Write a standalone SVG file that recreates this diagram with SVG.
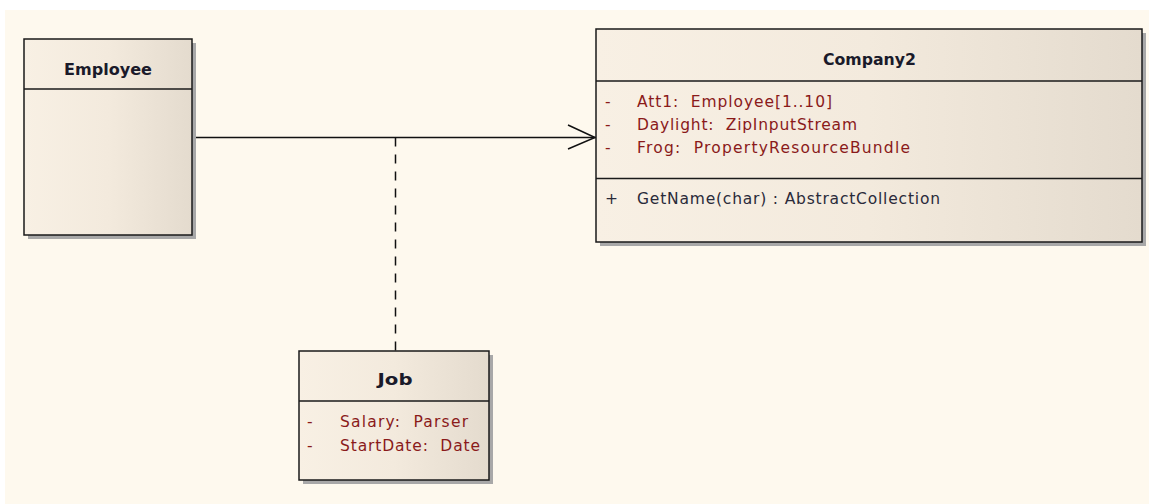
<svg xmlns="http://www.w3.org/2000/svg" width="1149" height="504" viewBox="0 0 1149 504">
<defs>
<linearGradient id="fillg" x1="0" y1="0" x2="1" y2="0">
<stop offset="0" stop-color="#F8F0E4"/>
<stop offset="0.5" stop-color="#F3EADD"/>
<stop offset="1" stop-color="#E4DBCE"/>
</linearGradient>
<style>
text{white-space:pre}
.box{fill:url(#fillg);stroke:#1a1a1a;stroke-width:1.5}
.shadow{fill:#a8a8a8}
.div{stroke:#1a1a1a;stroke-width:1.5}
.name{font-family:"DejaVu Sans",Verdana,sans-serif;font-size:16px;font-weight:bold;fill:#1a1a2a;text-anchor:middle}
.attr{font-family:"DejaVu Sans",Verdana,sans-serif;font-size:15.5px;fill:#8a1a1a}
.op{font-family:"DejaVu Sans",Verdana,sans-serif;font-size:15.5px;fill:#2a2a3a}
.conn{stroke:#111;stroke-width:1.5;fill:none}
</style>
</defs>
<rect x="0" y="0" width="1149" height="504" fill="#ffffff"/>
<rect x="5" y="10" width="1144" height="494" fill="#FEF9EE"/>
<g id="connectors">
<line class="conn" x1="192" y1="137.5" x2="596" y2="137.5"/>
<polyline class="conn" points="568,125 595,137.5 568,149"/>
<line class="conn" x1="395.5" y1="137.5" x2="395.5" y2="351" stroke-dasharray="9,8"/>
</g>
<g id="employee">
<rect class="shadow" x="28" y="43" width="168" height="196"/>
<rect class="box" x="24" y="39" width="168" height="196"/>
<line class="div" x1="24" y1="89" x2="192" y2="89"/>
<text class="name" x="108" y="75" textLength="88" lengthAdjust="spacingAndGlyphs">Employee</text>
</g>
<g id="company2">
<rect class="shadow" x="600" y="33" width="546" height="213"/>
<rect class="box" x="596" y="29" width="546" height="213"/>
<line class="div" x1="596" y1="81" x2="1142" y2="81"/>
<line class="div" x1="596" y1="178.5" x2="1142" y2="178.5"/>
<text class="name" x="869.5" y="65" textLength="93" lengthAdjust="spacingAndGlyphs">Company2</text>
<text class="attr" x="605" y="107">-</text>
<text class="attr" x="637" y="107" textLength="195">Att1:  Employee[1..10]</text>
<text class="attr" x="605" y="130">-</text>
<text class="attr" x="637" y="130" textLength="220">Daylight:  ZipInputStream</text>
<text class="attr" x="605" y="153">-</text>
<text class="attr" x="637" y="153" textLength="273">Frog:  PropertyResourceBundle</text>
<text class="op" x="605" y="204">+</text>
<text class="op" x="637" y="204" textLength="303">GetName(char) : AbstractCollection</text>
</g>
<g id="job">
<rect class="shadow" x="303" y="355" width="190" height="129"/>
<rect class="box" x="299" y="351" width="190" height="129"/>
<line class="div" x1="299" y1="401" x2="489" y2="401"/>
<text class="name" x="395" y="385" textLength="35" lengthAdjust="spacingAndGlyphs">Job</text>
<text class="attr" x="307" y="427">-</text>
<text class="attr" x="340" y="427" textLength="128">Salary:  Parser</text>
<text class="attr" x="307" y="451">-</text>
<text class="attr" x="340" y="451" textLength="140">StartDate:  Date</text>
</g>
</svg>
